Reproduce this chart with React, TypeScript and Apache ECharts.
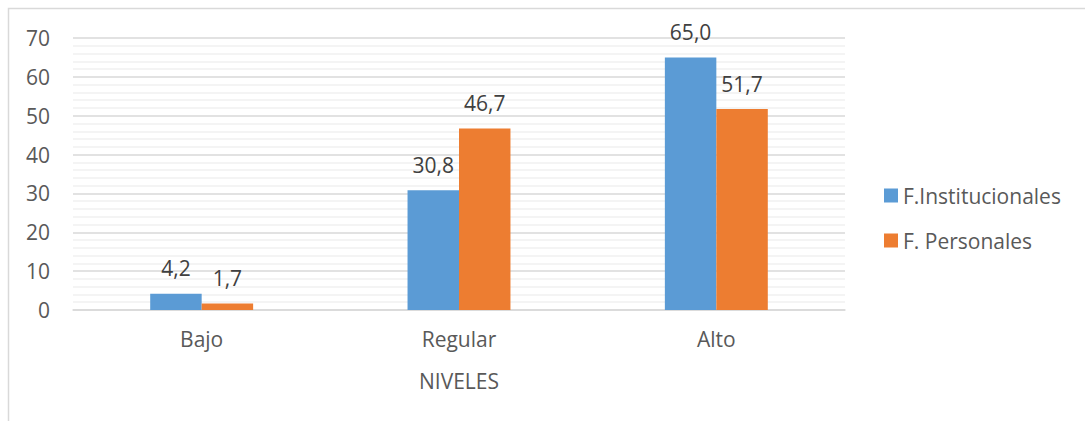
import React, { useEffect, useRef } from "react";
import * as echarts from "echarts";

const categories = ["Bajo", "Regular", "Alto"];
const institucionales = [4.2, 30.8, 65.0];
const personales = [1.7, 46.7, 51.7];
const seriesNames = ["F.Institucionales", "F. Personales"];
const axisName = "NIVELES";

const FONT = "Open Sans";
const FS = 21;

export default function App() {
  const ref = useRef<HTMLDivElement>(null);
  useEffect(() => {
    document.body.style.overflow = "hidden";
    const chart = echarts.init(ref.current!, null, { renderer: "svg" });
    const fmt = (p: any) => Number(p.value).toFixed(1).replace(".", ",");
    const labelStyle = {
      show: true,
      position: "top",
      distance: 15,
      formatter: fmt,
      fontFamily: FONT,
      fontSize: FS,
      color: "#404040",
    };
    chart.setOption({
      animation: false,
      textStyle: { fontFamily: FONT },
      graphic: [
        {
          type: "rect",
          shape: { x: 8.5, y: 8.5, width: 1200, height: 600 },
          style: { fill: "none", stroke: "#d9d9d9", lineWidth: 1.5 },
          silent: true,
        },
      ],
      grid: { left: 73, right: 240, top: 38, bottom: 111 },
      legend: {
        orient: "vertical",
        left: 879,
        top: 180,
        itemWidth: 14,
        itemHeight: 14,
        itemGap: 24,
        icon: "rect",
        textStyle: { fontFamily: FONT, fontSize: FS, color: "#595959" },
        data: seriesNames,
      },
      xAxis: {
        type: "category",
        data: categories,
        name: axisName,
        nameLocation: "middle",
        nameGap: 71,
        nameTextStyle: { fontFamily: FONT, fontSize: FS, color: "#595959", verticalAlign: "middle" },
        axisLine: { lineStyle: { color: "#d9d9d9", width: 1.5 } },
        axisTick: { show: false },
        axisLabel: { fontFamily: FONT, fontSize: FS, color: "#595959", margin: 18 },
      },
      yAxis: {
        type: "value",
        min: 0,
        max: 70,
        interval: 10,
        axisLine: { show: false },
        axisTick: { show: false },
        axisLabel: { fontFamily: FONT, fontSize: FS, color: "#595959", margin: 23 },
        splitLine: { lineStyle: { color: "#d9d9d9", width: 1.5 } },
        minorTick: { show: false, splitNumber: 5 },
        minorSplitLine: { show: true, lineStyle: { color: "#f0f0f0", width: 1.5 } },
      },
      series: [
        {
          name: seriesNames[0],
          type: "bar",
          data: institucionales,
          barWidth: "20%",
          barGap: "0%",
          itemStyle: { color: "#5B9BD5" },
          label: labelStyle,
        },
        {
          name: seriesNames[1],
          type: "bar",
          data: personales,
          barWidth: "20%",
          itemStyle: { color: "#ED7D31" },
          label: labelStyle,
        },
      ],
    });
    return () => chart.dispose();
  }, []);
  return (
    <div
      ref={ref}
      style={{ position: "fixed", left: 0, top: 0, width: 1085, height: 421, background: "#fff" }}
    />
  );
}
